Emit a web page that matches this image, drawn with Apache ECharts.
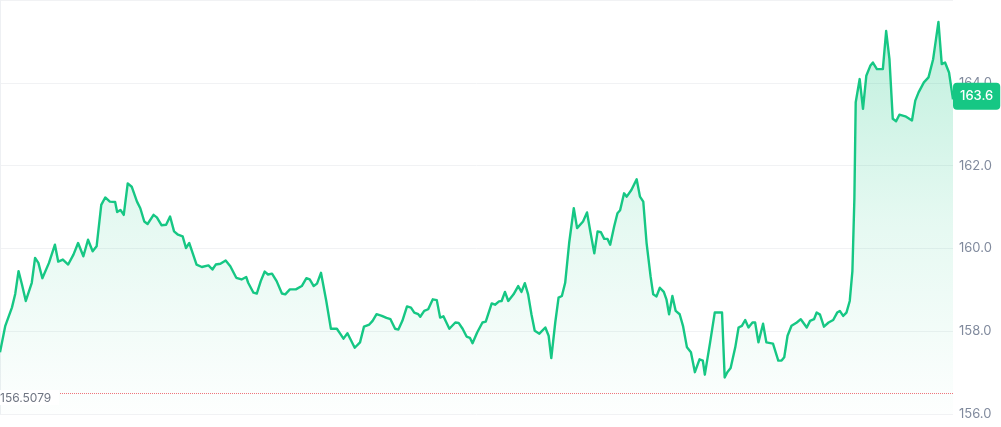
<!DOCTYPE html>
<html>
<head>
<meta charset="utf-8">
<script src="https://cdn.jsdelivr.net/npm/echarts@6/dist/echarts.min.js"></script>
<style>
html,body{margin:0;padding:0;background:#fff;}
#chart{width:1001px;height:427px;}
</style>
</head>
<body>
<div id="chart"></div>
<script>
// minutes since start of the 24h window
var minutes = [0,8,11,18,23,28,33,39,48,53,58,64,74,83,88,95,103,111,118,126,133,140,146,153,159,166,174,177,182,187,193,199,207,212,218,223,232,237,244,251,257,263,269,276,281,286,297,305,315,321,326,333,341,348,357,365,372,375,383,388,394,400,405,411,418,426,431,438,447,456,463,468,474,479,485,493,500,509,514,519,525,536,544,550,558,563,569,577,584,590,597,602,608,615,621,626,632,635,641,647,654,660,665,670,679,688,693,699,705,710,714,721,729,734,743,748,754,758,763,768,776,783,788,793,798,803,808,815,824,829,833,839,844,849,854,860,867,872,881,887,892,898,903,908,913,918,922,928,933,937,943,947,954,962,967,972,977,983,987,992,997,1003,1007,1011,1016,1021,1027,1032,1038,1044,1050,1057,1062,1065,1073,1080,1091,1095,1099,1104,1111,1116,1121,1126,1131,1137,1141,1146,1153,1158,1168,1176,1181,1185,1190,1196,1204,1210,1219,1224,1230,1234,1239,1245,1252,1259,1265,1269,1274,1279,1284,1288,1291,1293,1299,1304,1309,1315,1319,1325,1334,1339,1344,1349,1354,1359,1368,1378,1383,1388,1391,1396,1403,1410,1418,1423,1428,1434,1440];
var prices = [157.49,158.13,158.09,158.57,158.90,159.45,159.14,158.73,159.17,159.77,159.65,159.28,159.65,160.09,159.68,159.73,159.61,159.85,160.13,159.81,160.21,159.93,160.05,161.05,161.23,161.13,161.12,160.88,160.93,160.81,161.57,161.49,161.13,160.97,160.65,160.59,160.81,160.75,160.56,160.57,160.77,160.41,160.33,160.29,160.01,160.13,159.61,159.55,159.59,159.49,159.61,159.63,159.71,159.57,159.29,159.25,159.31,159.17,158.93,158.91,159.21,159.44,159.37,159.39,159.21,158.91,158.89,159.01,159.01,159.09,159.28,159.25,159.09,159.15,159.41,158.73,158.06,158.06,157.94,157.82,157.95,157.60,157.73,158.11,158.16,158.25,158.41,158.37,158.32,158.29,158.06,158.04,158.25,158.60,158.57,158.45,158.41,158.35,158.49,158.53,158.77,158.75,158.33,158.36,158.06,158.21,158.20,158.06,157.87,157.84,157.71,157.97,158.21,158.23,158.67,158.64,158.72,158.73,158.95,158.73,158.89,159.09,158.95,159.16,158.89,158.41,158.01,157.94,158.09,157.89,157.35,158.21,158.81,158.85,159.17,160.13,160.97,160.49,160.65,160.87,160.41,159.88,160.41,160.39,160.23,160.23,160.09,160.53,160.85,160.92,161.33,161.25,161.41,161.67,161.25,161.13,160.13,159.33,158.89,158.84,159.05,158.95,158.77,158.41,158.85,158.49,158.41,158.13,157.61,157.49,157.01,157.32,157.29,156.95,157.73,158.45,158.45,156.88,157.01,157.11,157.61,158.09,158.13,158.27,158.09,158.21,158.21,157.73,158.18,157.73,157.70,157.29,157.29,157.37,157.89,158.13,158.21,158.29,158.09,158.25,158.29,158.45,158.40,158.11,158.21,158.27,158.45,158.49,158.37,158.45,158.73,159.45,161.21,163.53,164.09,163.37,164.17,164.41,164.49,164.33,164.33,165.25,164.57,163.13,163.07,163.23,163.19,163.09,163.57,163.77,163.73,164.01,164.13,164.57,165.47,164.45,164.49,164.25,163.60];
var yTicks = {min:156, max:166, interval:2};
var lowValue = 156.5079;
var lastValue = 163.6;

var seriesData = minutes.map(function(m,i){return [m, prices[i]];});

var chart = echarts.init(document.getElementById('chart'), null, {renderer:'canvas'});
chart.setOption({
  animation:false,
  backgroundColor:'#ffffff',
  textStyle:{fontFamily:'Inter, "Noto Sans", sans-serif'},
  grid:{left:0, right:48, top:-3, bottom:13, containLabel:false},
  xAxis:{type:'value', min:0, max:1440, show:false},
  yAxis:{
    type:'value', position:'right', min:yTicks.min, max:yTicks.max, interval:yTicks.interval,
    axisLine:{show:true, lineStyle:{color:'#eef0f3', width:1}},
    axisTick:{show:false},
    splitLine:{show:true, lineStyle:{color:'#f1f2f4', width:1}},
    axisLabel:{color:'#808a9d', fontSize:13, margin:6, showMaxLabel:false,
      formatter:function(v){return v.toFixed(1);}}
  },
  series:[{
    type:'line', data:seriesData, symbol:'none', smooth:false,
    lineStyle:{color:'#16c784', width:2.4, join:'round'},
    areaStyle:{color:{type:'linear',x:0,y:0,x2:0,y2:1,colorStops:[
      {offset:0,color:'rgba(22,199,132,0.40)'},
      {offset:0.5,color:'rgba(22,199,132,0.16)'},
      {offset:1,color:'rgba(22,199,132,0.01)'}]}},
    markLine:{
      silent:true, symbol:['none','none'], animation:false, precision:4,
      data:[
        {yAxis:lowValue,
         lineStyle:{type:'dotted', color:'rgba(234,57,67,0.7)', width:1},
         label:{show:true, position:'insideStartBottom', distance:[0,-3],
           formatter:function(p){return Number(p.value).toFixed(4);},
           color:'#6f7582', fontSize:12, backgroundColor:'#ffffff', padding:[2,8,1,0]}},
        {yAxis:lastValue,
         lineStyle:{color:'rgba(0,0,0,0)', width:1, type:'solid'},
         label:{show:true, position:'end', distance:0, offset:[0,-3],
           formatter:function(p){return Number(p.value).toFixed(1);},
           color:'#ffffff', fontSize:13, fontWeight:500, backgroundColor:'#16c784',
           padding:[7,7,7,7], borderRadius:4}}
      ]
    }
  }]
});
</script>
</body>
</html>
